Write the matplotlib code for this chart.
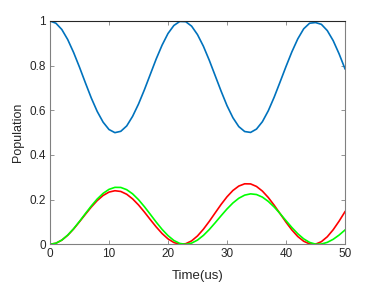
import matplotlib
matplotlib.use("Agg")
import matplotlib.pyplot as plt

plt.rcParams['font.family'] = ['Liberation Sans', 'DejaVu Sans']

time_us = list(range(0, 51))

blue_pop = [1.000, 0.990, 0.962, 0.917, 0.859, 0.793, 0.723, 0.655, 0.595, 0.547,
            0.514, 0.500, 0.506, 0.530, 0.573, 0.628, 0.692, 0.761, 0.830, 0.892,
            0.944, 0.980, 0.998, 0.997, 0.977, 0.939, 0.887, 0.824, 0.755, 0.686,
            0.621, 0.567, 0.527, 0.505, 0.501, 0.516, 0.549, 0.598, 0.659, 0.727,
            0.796, 0.862, 0.920, 0.965, 0.990, 0.993, 0.985, 0.957, 0.912, 0.853,
            0.786]

red_pop = [0.0000, 0.0047, 0.0186, 0.0404, 0.0685, 0.1010, 0.1343, 0.1669, 0.1958, 0.2187,
           0.2338, 0.2399, 0.2366, 0.2241, 0.2034, 0.1763, 0.1445, 0.1107, 0.0778, 0.0482,
           0.0243, 0.0079, 0.0004, 0.0026, 0.0153, 0.0375, 0.0675, 0.1028, 0.1408, 0.1785,
           0.2127, 0.2409, 0.2608, 0.2709, 0.2704, 0.2591, 0.2383, 0.2095, 0.1749, 0.1373,
           0.0992, 0.0642, 0.0348, 0.0136, 0.0019, 0.0005, 0.0118, 0.0338, 0.0652, 0.1036,
           0.1460]

green_pop = [0.0000, 0.0048, 0.0188, 0.0410, 0.0697, 0.1027, 0.1377, 0.1718, 0.2028, 0.2281,
             0.2460, 0.2550, 0.2546, 0.2446, 0.2260, 0.1999, 0.1685, 0.1343, 0.0994, 0.0668,
             0.0389, 0.0170, 0.0039, 0.0000, 0.0053, 0.0189, 0.0398, 0.0663, 0.0965, 0.1279,
             0.1582, 0.1850, 0.2062, 0.2202, 0.2259, 0.2229, 0.2113, 0.1921, 0.1669, 0.1375,
             0.1059, 0.0751, 0.0472, 0.0244, 0.0085, 0.0007, 0.0012, 0.0087, 0.0224, 0.0413,
             0.0640]

x_ticks = [0, 10, 20, 30, 40, 50]
y_ticks = [0, 0.2, 0.4, 0.6, 0.8, 1]
y_ticklabels = ['0', '0.2', '0.4', '0.6', '0.8', '1']

fig = plt.figure(figsize=(3.82, 2.86), dpi=100)
ax = fig.add_axes([0.1309, 0.1458, 0.7722, 0.7808])

ax.plot(time_us, blue_pop, color='#0072BD', lw=1.2)
ax.plot(time_us, red_pop, color='#FF0000', lw=1.2)
ax.plot(time_us, green_pop, color='#00FF00', lw=1.2)

ax.set_xlim(0, 50)
ax.set_ylim(0, 1)
ax.set_xticks(x_ticks)
ax.set_xticklabels([str(v) for v in x_ticks])
ax.set_yticks(y_ticks)
ax.set_yticklabels(y_ticklabels)

ax.tick_params(direction='in', length=3, width=0.6, colors='#808080',
               labelcolor='#262626', labelsize=8.5, top=True, right=True, pad=3)
for name in ['left', 'bottom', 'right']:
    ax.spines[name].set_color('#808080')
    ax.spines[name].set_linewidth(0.8)
ax.spines['top'].set_color('#262626')
ax.spines['top'].set_linewidth(0.8)

ax.set_xlabel('Time(us)', fontsize=9.5, color='#262626', labelpad=7)
ax.set_ylabel('Population', fontsize=9, color='#262626', labelpad=4)

fig.savefig('out.png', dpi=100)
